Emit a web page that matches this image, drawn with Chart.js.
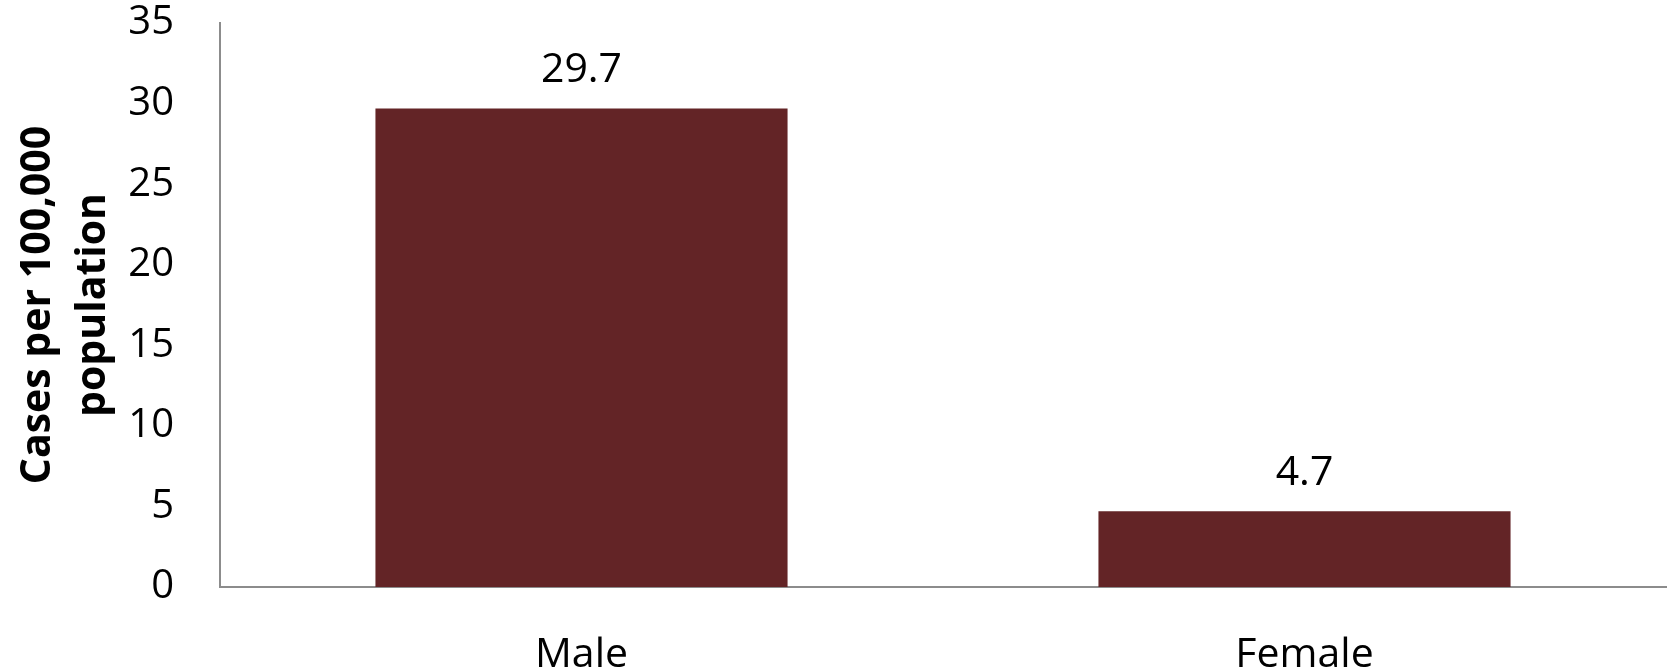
<!DOCTYPE html>
<html>
<head>
<meta charset="utf-8">
<script src="https://cdn.jsdelivr.net/npm/chart.js@4.4.0/dist/chart.umd.min.js"></script>
<style>
  html, body { margin: 0; padding: 0; background: #fff; }
  canvas { display: block; }
</style>
</head>
<body>
<canvas id="chart" width="1669" height="669"></canvas>
<script>
// categories and values
const categories = ["Male", "Female"];
const rates = [29.7, 4.7];
const yTitle = ["Cases per 100,000", "population"];

const FONT = "'Open Sans', 'Liberation Sans', sans-serif";
const BAR = "#632426";
const AXIS = "#8c8c8c";

// draw the value above each bar
const valueLabels = {
  id: "valueLabels",
  afterDatasetsDraw(chart) {
    const ctx = chart.ctx;
    const meta = chart.getDatasetMeta(0);
    ctx.save();
    ctx.font = "41px " + FONT;
    ctx.fillStyle = "#000";
    ctx.textAlign = "center";
    ctx.textBaseline = "alphabetic";
    meta.data.forEach((bar, i) => {
      ctx.fillText(rates[i].toFixed(1), bar.x, bar.y - 26);
    });
    ctx.restore();
  }
};

new Chart(document.getElementById("chart"), {
  type: "bar",
  data: {
    labels: categories,
    datasets: [{
      data: rates,
      backgroundColor: BAR,
      borderWidth: 0,
      barPercentage: 0.57,
      categoryPercentage: 1
    }]
  },
  options: {
    responsive: false,
    animation: false,
    layout: { padding: { top: 23, right: 3, left: 0, bottom: 0 } },
    plugins: {
      legend: { display: false },
      tooltip: { enabled: false }
    },
    scales: {
      x: {
        grid: { display: false, drawTicks: false },
        border: { color: AXIS, width: 2 },
        ticks: {
          color: "#000",
          padding: 46,
          font: { family: FONT, size: 41, lineHeight: 1.1 }
        },
        afterFit(scale) {
          scale.height = 82;
          scale.paddingLeft = 0;
          scale.paddingRight = 0;
        }
      },
      y: {
        min: 0,
        max: 35,
        grid: { display: false, drawTicks: false },
        border: { color: AXIS, width: 2 },
        ticks: {
          stepSize: 5,
          color: "#000",
          padding: 46,
          font: { family: FONT, size: 40, lineHeight: 1.1 }
        },
        title: {
          display: true,
          text: yTitle,
          color: "#000",
          padding: { top: 11, bottom: 0 },
          font: { family: FONT, size: 41, weight: "bold", lineHeight: 1.34 }
        },
        afterFit(scale) {
          // keep the plot box where the picture has it
          scale.width = 220;
          scale.paddingTop = 0;
          scale.paddingBottom = 0;
        }
      }
    }
  },
  plugins: [valueLabels]
});
</script>
</body>
</html>
